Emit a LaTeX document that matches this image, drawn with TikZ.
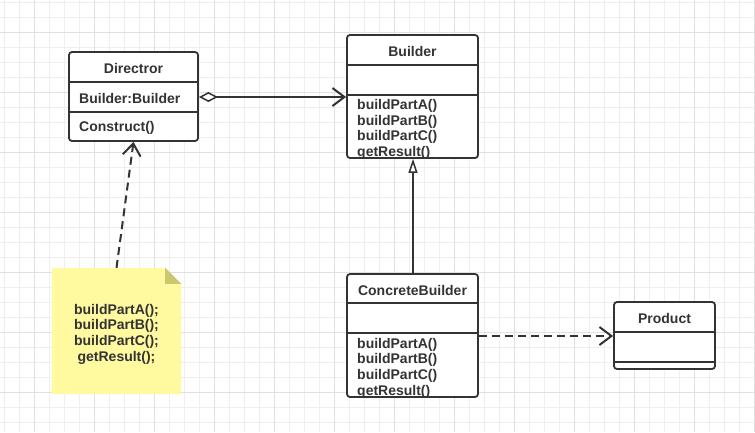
\documentclass[tikz,border=0pt]{standalone}
\usepackage{fontspec}
\setmainfont{Liberation Sans}
\usepackage{xcolor}
\usetikzlibrary{arrows.meta,backgrounds}

\definecolor{ink}{HTML}{333333}
\definecolor{gridminor}{HTML}{EFEFEF}
\definecolor{gridmajor}{HTML}{E0E0E0}
\definecolor{notefill}{HTML}{FFF9A0}
\definecolor{notefold}{HTML}{CCC76E}

\tikzset{
  classbox/.style={draw=ink,line width=1.8pt,rounded corners=3pt,fill=white,inner sep=0pt},
  sepline/.style={draw=ink,line width=1.8pt},
  classname/.style={text=ink,inner sep=0pt,font=\bfseries\fontsize{14}{16}\selectfont},
  member/.style={text=ink,inner sep=0pt,anchor=west,align=left,font=\bfseries\fontsize{14}{15.7}\selectfont},
  notebox/.style={inner sep=0pt,minimum width=129pt,minimum height=126pt},
  notetext/.style={text=ink,inner sep=0pt,align=center,font=\bfseries\fontsize{14}{15.7}\selectfont},
  conn/.style={draw=ink,line width=2pt},
  dashconn/.style={conn,dash pattern=on 8pt off 5pt}
}

\begin{document}
\begin{tikzpicture}[x=1pt,y=-1pt]
  \useasboundingbox (0,0) rectangle (755,432);
  \begin{scope}[on background layer]
    \fill[white] (0,0) rectangle (755,432);
    \foreach \gx in {4.3,19.3,...,755} \draw[gridminor,line width=0.8pt] (\gx,0) -- (\gx,432);
    \foreach \gy in {2.3,17.3,...,432} \draw[gridminor,line width=0.8pt] (0,\gy) -- (755,\gy);
    \foreach \gx in {34.3,94.3,...,755} \draw[gridmajor,line width=0.8pt] (\gx,0) -- (\gx,432);
    \foreach \gy in {32.3,92.3,...,432} \draw[gridmajor,line width=0.8pt] (0,\gy) -- (755,\gy);
  \end{scope}

  \node[classbox,minimum width=129pt,minimum height=89pt] (director) at (133.5,96.5) {};
  \draw[sepline] (director.west |- 0,82) -- (director.east |- 0,82);
  \draw[sepline] (director.west |- 0,112) -- (director.east |- 0,112);
  \node[classname] (directorname) at (133.5,68) {Directror};
  \node[member] (directorattr) at (79,98) {Builder:Builder};
  \node[member] (directorop) at (79,128) {Construct()};

  \node[classbox,minimum width=131pt,minimum height=123pt] (builder) at (412.5,96.5) {};
  \draw[sepline] (builder.west |- 0,65) -- (builder.east |- 0,65);
  \draw[sepline] (builder.west |- 0,95) -- (builder.east |- 0,95);
  \node[classname] (buildername) at (412.5,51) {Builder};
  \node[member] (builderops) at (357,129.5) {buildPartA()\\buildPartB()\\buildPartC()\\getResult()};

  \node[classbox,minimum width=131pt,minimum height=123pt] (concrete) at (412.5,335.5) {};
  \draw[sepline] (concrete.west |- 0,303) -- (concrete.east |- 0,303);
  \draw[sepline] (concrete.west |- 0,333) -- (concrete.east |- 0,333);
  \node[classname] (concretename) at (412.5,290) {ConcreteBuilder};
  \node[member] (concreteops) at (357,368) {buildPartA()\\buildPartB()\\buildPartC()\\getResult()};

  \node[classbox,minimum width=101pt,minimum height=67pt] (product) at (664.5,335.5) {};
  \draw[sepline] (product.west |- 0,332) -- (product.east |- 0,332);
  \draw[sepline] (product.west |- 0,362) -- (product.east |- 0,362);
  \node[classname] (productname) at (664.5,318) {Product};

  \node[notebox] (note) at (116.5,331) {};
  \fill[notefill] (note.south west) -- (note.north west) -- ([xshift=-16pt]note.north east)
    -- ([yshift=-16pt]note.north east) -- (note.south east) -- cycle;
  \fill[notefold] ([xshift=-16pt]note.north east) -- ([xshift=-16pt,yshift=-16pt]note.north east)
    -- ([yshift=-16pt]note.north east) -- cycle;
  \node[notetext] (notebody) at ([yshift=-3pt]note.center) {buildPartA();\\buildPartB();\\buildPartC();\\getResult();};

  \draw[conn,{Diamond[open,length=19pt,width=10pt,line width=1.5pt]}-{Straight Barb[length=12pt,width=18pt]}] ([yshift=-0.5pt]director.east) -- ([yshift=-0.5pt]builder.west);
  \draw[conn,-{Triangle[open,length=14pt,width=9pt,line width=1.5pt]}] ([xshift=0.5pt]concrete.north) -- ([xshift=0.5pt]builder.south);
  \draw[dashconn,-{Straight Barb[length=12pt,width=18pt]}] ([yshift=-0.5pt]concrete.east) -- ([yshift=-0.5pt]product.west);
  \draw[dashconn,-{Straight Barb[length=12pt,width=18pt]}] (note.north) -- (director.south);
\end{tikzpicture}
\end{document}
